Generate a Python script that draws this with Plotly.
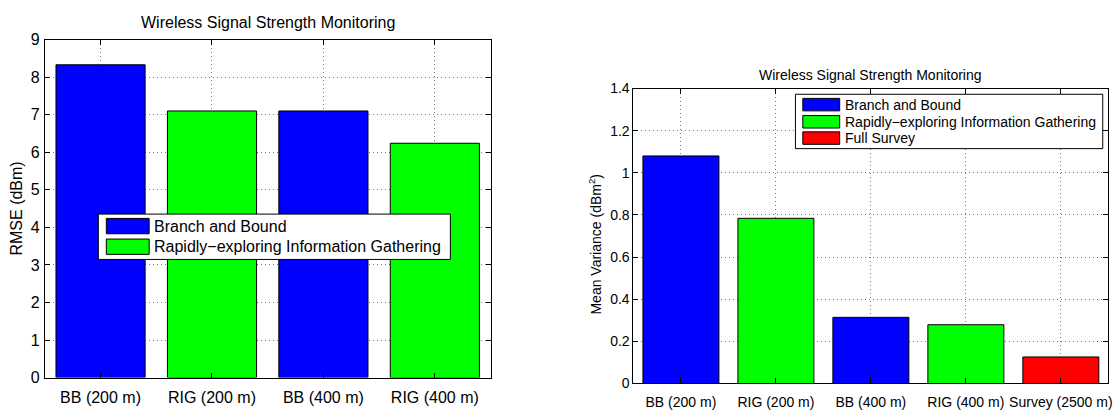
import plotly.graph_objects as go

W, H = 1120, 411

# ---- data ----
left_categories = ["BB (200 m)", "RIG (200 m)", "BB (400 m)", "RIG (400 m)"]
left_rmse = [8.33, 7.10, 7.10, 6.24]
left_series = ["Branch and Bound", "Rapidly\u2212exploring Information Gathering",
               "Branch and Bound", "Rapidly\u2212exploring Information Gathering"]

right_categories = ["BB (200 m)", "RIG (200 m)", "BB (400 m)", "RIG (400 m)", "Survey (2500 m)"]
right_variance = [1.08, 0.784, 0.314, 0.279, 0.126]
right_series = ["Branch and Bound", "Rapidly\u2212exploring Information Gathering",
                "Branch and Bound", "Rapidly\u2212exploring Information Gathering", "Full Survey"]

series_names = ["Branch and Bound", "Rapidly\u2212exploring Information Gathering", "Full Survey"]
series_colors = ["#0000FF", "#00FF00", "#FF0000"]

title_text = "Wireless Signal Strength Monitoring"
left_ylabel = "RMSE (dBm)"
right_ylabel = "Mean Variance (dBm<sup>2</sup>)"
left_yticks = [0, 1, 2, 3, 4, 5, 6, 7, 8, 9]
right_yticks = [0, 0.2, 0.4, 0.6, 0.8, 1.0, 1.2, 1.4]

FONT = "Liberation Sans, Arial, Helvetica, sans-serif"
color_of = dict(zip(series_names, series_colors))


def px(x):
    return x / W


def py(y):
    return 1 - y / H


fig = go.Figure()

fig.add_trace(go.Bar(
    x=left_categories, y=left_rmse, width=0.8,
    marker=dict(color=[color_of[s] for s in left_series], line=dict(color="#000", width=1)),
    xaxis="x", yaxis="y", showlegend=False, hoverinfo="x+y"))

fig.add_trace(go.Bar(
    x=right_categories, y=right_variance, width=0.8,
    marker=dict(color=[color_of[s] for s in right_series], line=dict(color="#000", width=1)),
    xaxis="x2", yaxis="y2", showlegend=False, hoverinfo="x+y"))

# plot-area pixel boxes
L = dict(x0=45, x1=492.3, y0=33, y1=385.5)
R = dict(x0=635.7, x1=1112.3, y0=84, y1=391.7)

axis_common = dict(showline=True, linecolor="#000", linewidth=1, mirror="allticks",
                   ticks="inside", ticklen=5, tickcolor="#000",
                   showgrid=True, gridcolor="#777", griddash="1px,3px", gridwidth=1,
                   zeroline=False, fixedrange=True)

fig.update_layout(
    width=W, height=H,
    margin=dict(l=0, r=0, t=0, b=0),
    paper_bgcolor="white", plot_bgcolor="white",
    font=dict(family=FONT, color="#000"),
    bargap=0.2,
    xaxis=dict(axis_common, domain=[px(L["x0"]), px(L["x1"])], anchor="y",
               type="category", range=[-0.5, 3.5], tickfont=dict(size=16),
               ticklabelstandoff=5),
    yaxis=dict(axis_common, domain=[py(L["y1"]), py(L["y0"])], anchor="x",
               range=[0, 9], tickvals=left_yticks, tickfont=dict(size=16),
               ticklabelstandoff=1),
    xaxis2=dict(axis_common, domain=[px(R["x0"]), px(R["x1"])], anchor="y2",
                type="category", range=[-0.5, 4.5], tickfont=dict(size=14),
                ticklabelstandoff=6),
    yaxis2=dict(axis_common, domain=[py(R["y1"]), py(R["y0"])], anchor="x2",
                range=[0, 1.4], tickvals=right_yticks, tickfont=dict(size=14)),
)

annotations = []
shapes = []

# titles
annotations.append(dict(text=title_text, x=px((L["x0"] + L["x1"]) / 2), y=py(15),
                         xref="paper", yref="paper", showarrow=False,
                         xanchor="center", yanchor="middle", font=dict(size=16)))
annotations.append(dict(text=title_text, x=px((R["x0"] + R["x1"]) / 2), y=py(70),
                         xref="paper", yref="paper", showarrow=False,
                         xanchor="center", yanchor="middle", font=dict(size=14)))

# y-axis labels
annotations.append(dict(text=left_ylabel, x=px(17), y=py((L["y0"] + L["y1"]) / 2),
                         xref="paper", yref="paper", showarrow=False, textangle=-90,
                         xanchor="center", yanchor="middle", font=dict(size=16)))
annotations.append(dict(text=right_ylabel, x=px(597), y=py((R["y0"] + R["y1"]) / 2 + 8),
                         xref="paper", yref="paper", showarrow=False, textangle=-90,
                         xanchor="center", yanchor="middle", font=dict(size=14)))


def add_legend(box, sw_x0, sw_x1, rows, sw_h, text_x, names, size):
    shapes.append(dict(type="rect", xref="paper", yref="paper", layer="above",
                       x0=px(box[0]), x1=px(box[2]), y0=py(box[3]), y1=py(box[1]),
                       line=dict(color="#000", width=1), fillcolor="white"))
    for name, cy in zip(names, rows):
        shapes.append(dict(type="rect", xref="paper", yref="paper", layer="above",
                           x0=px(sw_x0), x1=px(sw_x1), y0=py(cy + sw_h / 2), y1=py(cy - sw_h / 2),
                           line=dict(color="#000", width=1), fillcolor=color_of[name]))
        annotations.append(dict(text=name, x=px(text_x), y=py(cy), xref="paper", yref="paper",
                                showarrow=False, xanchor="left", yanchor="middle",
                                font=dict(size=size)))


add_legend((98.7, 215, 452, 262.3), 106.7, 149.7, [227.5, 249], 16, 153,
           series_names[:2], 16)
add_legend((798.3, 90, 1106.7, 146.7), 805.7, 842.7, [100.8, 118.7, 135.7], 13, 846,
           series_names, 14)

fig.update_layout(annotations=annotations, shapes=shapes)

fig.write_html("out.html")
